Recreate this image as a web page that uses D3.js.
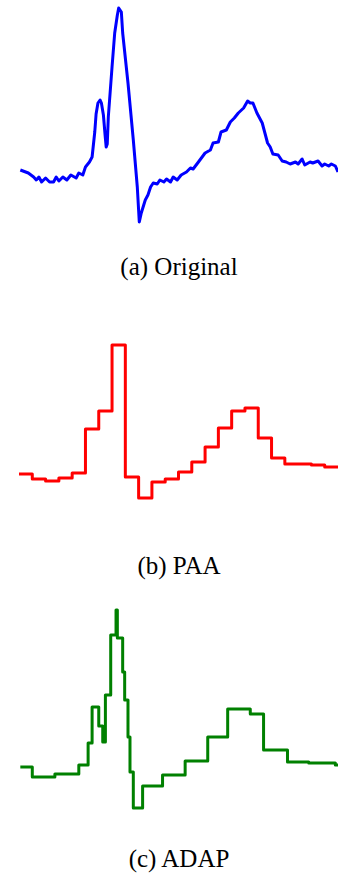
<!DOCTYPE html>
<html>
<head>
<meta charset="utf-8">
<script src="https://cdn.jsdelivr.net/npm/d3@7"></script>
<style>
  html, body { margin: 0; padding: 0; background: #fff; }
  svg { display: block; }
</style>
</head>
<body>
<svg id="chart" width="338" height="879"></svg>
<script>
// ---- Data (sample index, amplitude) ----
const origT = [1,3,7,11,13,15,17,20,23,26,28,30,33,36,39,43,45,48,50,53,55,57,58,59.4,61,62,63.5,64.7,65.6,66.4,67.2,70,72,74,75,77,78,82,86,89,90.5,92,95,97,99,101,104,106,109,111,114,116,119,122,126,129,131,135,140,144,146,150,152,156,159,162,165,169,172,174,176,179,183,185,187,189,191,195,198,201,204,208,210,213,215,219,221,225,228,230,233,235,238,240];
const origV = [0.7,0.6,0.4,0.0,-0.3,0.0,-0.5,-0.1,-0.5,-0.5,0.0,-0.4,0.0,-0.3,0.2,-0.1,0.4,0.2,1.0,1.5,2.0,4.5,6.3,7.4,7.7,7.4,6.2,4.3,3.0,3.3,6.0,11.0,14.4,16.2,16.9,16.5,14.4,9.4,3.7,-1.0,-4.5,-3.6,-2.3,-1.8,-1.0,-0.6,-0.7,-0.3,-0.5,-0.2,-0.5,0.0,-0.3,0.2,0.5,0.9,0.8,1.5,2.4,2.7,3.4,3.5,4.5,4.7,5.5,5.9,6.4,6.9,7.6,7.4,7.4,6.4,5.4,4.4,3.4,3.0,2.3,2.2,1.6,1.5,1.3,1.5,1.3,1.8,1.2,1.5,1.4,1.6,1.1,1.3,1.1,1.3,1.1,0.5];

// PAA: 24 segments of 10 samples each
const paaStart = [0,10,20,30,40,50,60,70,80,90,100,110,120,130,140,150,160,170,180,190,200,210,220,230];
const paaV = [0.3,-0.2,-0.4,-0.1,0.4,4.8,6.6,13.2,0.0,-2.1,-0.5,-0.2,0.5,1.5,3.0,4.9,6.6,6.9,3.9,1.9,1.3,1.3,1.2,1.0];

// ADAP: adaptive segments (start index, value)
const adapStart = [1,10,27,45,52,55,60,63,65,69,73,74,75,78,79.5,82,83.5,86,93,108,125,142,157,174,184,202,218,238];
const adapV = [0.5,-0.5,-0.2,0.7,2.9,6.5,4.6,3.0,7.7,13.7,16.2,13.4,13.4,10.0,7.2,3.5,0.0,-3.6,-1.4,-0.3,1.1,3.5,6.3,5.8,2.2,1.0,0.9,0.7];

const captions = ["(a) Original", "(b) PAA", "(c) ADAP"];
const endT = 240;

// ---- Layout ----
const svg = d3.select("#chart");
const x = d3.scaleLinear().domain([0, endT]).range([19, 338]);
const vDomain = [-5, 17];
const panels = [
  { zero: 177, color: "#0000ff", caption: captions[0], capY: 275 },
  { zero: 477, color: "#ff0000", caption: captions[1], capY: 574 },
  { zero: 772, color: "#008000", caption: captions[2], capY: 867 }
];
const yFor = p => d3.scaleLinear().domain(vDomain).range([p.zero + 50, p.zero - 170]);

function stepData(starts, vals) {
  const d = starts.map((t, i) => [t, vals[i]]);
  d.push([endT, vals[vals.length - 1]]);
  return d;
}

const series = [
  { data: origT.map((t, i) => [t, origV[i]]), curve: d3.curveLinear },
  { data: stepData(paaStart, paaV), curve: d3.curveStepAfter },
  { data: stepData(adapStart, adapV), curve: d3.curveStepAfter }
];

panels.forEach((p, i) => {
  const y = yFor(p);
  const line = d3.line().x(d => x(d[0])).y(d => y(d[1])).curve(series[i].curve);
  svg.append("path")
    .datum(series[i].data)
    .attr("d", line)
    .attr("fill", "none")
    .attr("stroke", p.color)
    .attr("stroke-width", 3)
    .attr("stroke-linejoin", "round")
    .attr("stroke-linecap", "butt");
  svg.append("text")
    .attr("x", 179)
    .attr("y", p.capY)
    .attr("text-anchor", "middle")
    .attr("font-family", "'Liberation Serif', 'Times New Roman', serif")
    .attr("font-size", 25)
    .attr("fill", "#000")
    .text(p.caption);
});
</script>
</body>
</html>
